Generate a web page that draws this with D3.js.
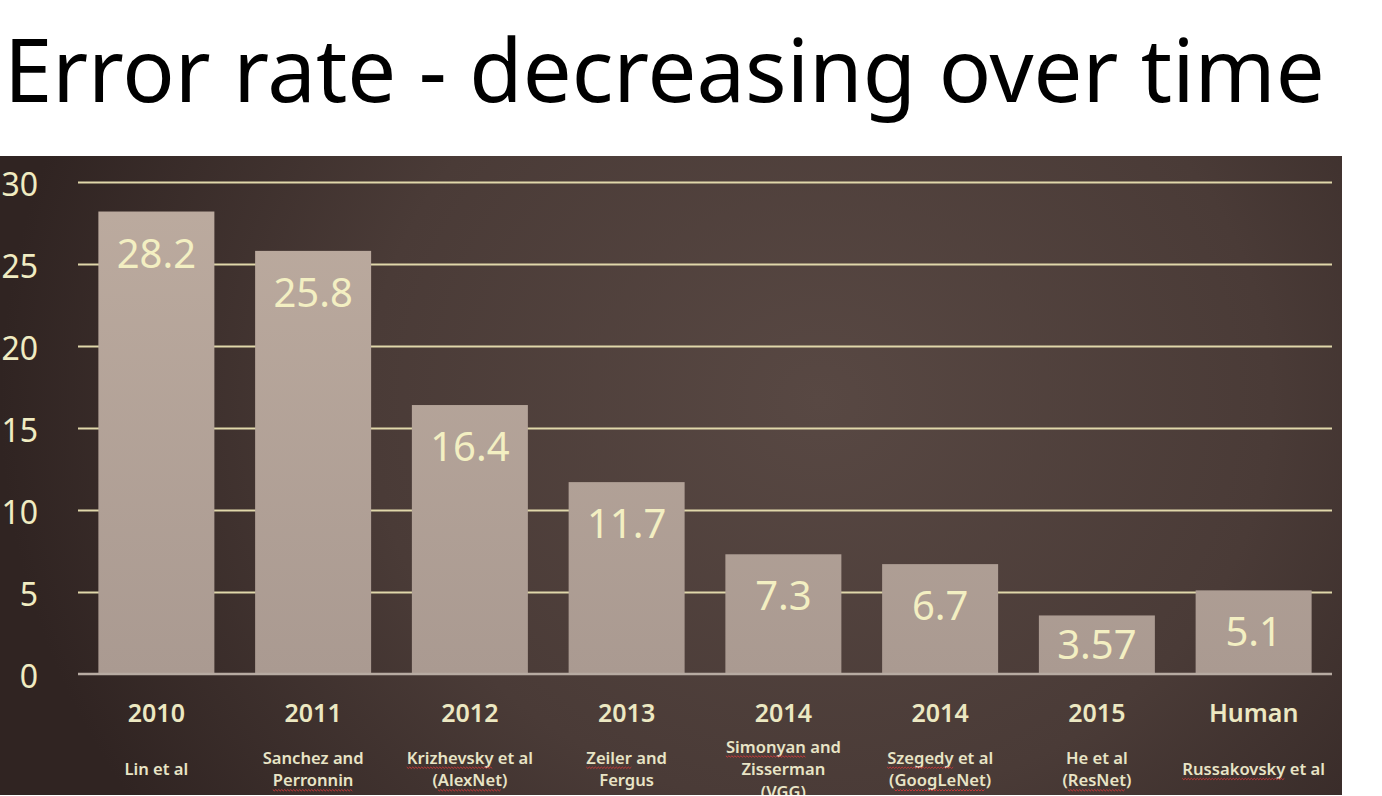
<!DOCTYPE html>
<html>
<head>
<meta charset="utf-8">
<script src="https://cdn.jsdelivr.net/npm/d3@7"></script>
<style>
  html, body { margin: 0; padding: 0; background: #ffffff; overflow: hidden; }
  svg { display: block; }
</style>
</head>
<body>
<svg id="chart" width="1382" height="796"></svg>
<script>
// ---------- data ----------
const titleText = "Error rate - decreasing over time";
const categories = ["2010", "2011", "2012", "2013", "2014", "2014", "2015", "Human"];
const errorRates = [28.2, 25.8, 16.4, 11.7, 7.3, 6.7, 3.57, 5.1];
const valueLabels = ["28.2", "25.8", "16.4", "11.7", "7.3", "6.7", "3.57", "5.1"];
const authors = [
  ["Lin et al"],
  ["Sanchez and", "Perronnin"],
  ["Krizhevsky et al", "(AlexNet)"],
  ["Zeiler and", "Fergus"],
  ["Simonyan and", "Zisserman", "(VGG)"],
  ["Szegedy et al", "(GoogLeNet)"],
  ["He et al", "(ResNet)"],
  ["Russakovsky et al"]
];
const yTicks = [0, 5, 10, 15, 20, 25, 30];
const spellFlagged = ["Perronnin", "Krizhevsky", "AlexNet", "Zeiler", "Simonyan", "Szegedy", "GoogLeNet", "ResNet", "Russakovsky"];

// ---------- layout ----------
const svg = d3.select("#chart");
const panel = { x0: 0, y0: 156, x1: 1342, y1: 795 };
const plot = { left: 78, right: 1332, top: 182, bottom: 674 };
const FONT = "'Noto Sans', 'Open Sans', sans-serif";

const defs = svg.append("defs");
const bg = defs.append("radialGradient").attr("id", "bgGrad")
  .attr("gradientUnits", "userSpaceOnUse")
  .attr("cx", 820).attr("cy", 400).attr("r", 820)
  .attr("gradientTransform", "translate(820,400) scale(1,0.9) translate(-820,-400)");
bg.append("stop").attr("offset", "0").attr("stop-color", "#584843");
bg.append("stop").attr("offset", "0.55").attr("stop-color", "#4a3b37");
bg.append("stop").attr("offset", "1").attr("stop-color", "#302422");

const barGrad = defs.append("linearGradient").attr("id", "barGrad")
  .attr("gradientUnits", "userSpaceOnUse")
  .attr("x1", 0).attr("y1", plot.top).attr("x2", 0).attr("y2", plot.bottom);
barGrad.append("stop").attr("offset", "0").attr("stop-color", "#bcab9f");
barGrad.append("stop").attr("offset", "1").attr("stop-color", "#aa9a91");

// title
const title = svg.append("text")
  .attr("x", 4).attr("y", 102)
  .attr("font-family", FONT)
  .attr("font-size", 90)
  .attr("fill", "#000")
  .text(titleText);
const tw = title.node().getComputedTextLength();
title.attr("font-size", 90 * 1321 / tw);

// panel
svg.append("rect")
  .attr("x", panel.x0).attr("y", panel.y0)
  .attr("width", panel.x1 - panel.x0).attr("height", panel.y1 - panel.y0)
  .attr("fill", "url(#bgGrad)");

const g = svg.append("g");
g.append("clipPath").attr("id", "panelClip").append("rect")
  .attr("x", panel.x0).attr("y", panel.y0)
  .attr("width", panel.x1 - panel.x0).attr("height", panel.y1 - panel.y0);
const inner = g.append("g").attr("clip-path", "url(#panelClip)");

// scales
const x = d3.scaleBand()
  .domain(d3.range(categories.length))
  .range([plot.left, plot.right])
  .paddingInner(0.26)
  .paddingOuter(0.13);
const y = d3.scaleLinear().domain([0, 30]).range([plot.bottom, plot.top]);

// gridlines (via axis)
const yAxis = d3.axisLeft(y).tickValues(yTicks.filter(d => d > 0))
  .tickSize(-(plot.right - plot.left)).tickFormat("");
const gridG = inner.append("g").attr("transform", `translate(${plot.left},0)`).call(yAxis);
gridG.select(".domain").remove();
gridG.selectAll(".tick line").attr("stroke", "#e0d7aa").attr("stroke-width", 2.2);

// y tick labels
inner.append("g").selectAll("text").data(yTicks).join("text")
  .attr("x", 38).attr("y", d => y(d) + 5)
  .attr("text-anchor", "end").attr("dominant-baseline", "middle")
  .attr("font-family", FONT)
  .attr("font-size", 32)
  .attr("fill", "#f0ecc2")
  .text(d => d);

// bars
inner.append("g").selectAll("rect").data(errorRates).join("rect")
  .attr("x", (d, i) => x(i))
  .attr("y", d => y(d))
  .attr("width", x.bandwidth())
  .attr("height", d => y(0) - y(d))
  .attr("fill", "url(#barGrad)");

// baseline
inner.append("line")
  .attr("x1", plot.left).attr("x2", plot.right)
  .attr("y1", y(0)).attr("y2", y(0))
  .attr("stroke", "#b7aba2").attr("stroke-width", 2.5);

// value labels
inner.append("g").selectAll("text").data(errorRates).join("text")
  .attr("x", (d, i) => x(i) + x.bandwidth() / 2)
  .attr("y", d => Math.min(y(d) + 56, y(0) - 15))
  .attr("text-anchor", "middle")
  .attr("font-family", FONT)
  .attr("font-size", 40)
  .attr("fill", "#f3efc2")
  .text((d, i) => valueLabels[i]);

// year labels
inner.append("g").selectAll("text").data(categories).join("text")
  .attr("x", (d, i) => x(i) + x.bandwidth() / 2)
  .attr("y", 722)
  .attr("text-anchor", "middle")
  .attr("font-family", FONT)
  .attr("font-weight", 600)
  .attr("font-size", 25)
  .attr("fill", "#ece8c2")
  .text(d => d);

// author labels
const lineH = 22.5;
const authG = inner.append("g");
authors.forEach((lines, i) => {
  const cx = x(i) + x.bandwidth() / 2;
  const n = lines.length;
  lines.forEach((ln, j) => {
    const by = 775 + (j - (n - 1) / 2) * lineH;
    const t = authG.append("text")
      .attr("x", cx).attr("y", by)
      .attr("text-anchor", "middle")
      .attr("font-family", FONT)
      .attr("font-weight", 600)
      .attr("font-size", 16.6)
      .attr("fill", "#e8e4c6")
      .text(ln);
    // spell-check squiggles under flagged words
    spellFlagged.forEach(w => {
      const k = ln.indexOf(w);
      if (k < 0) return;
      const node = t.node();
      const sx = node.getStartPositionOfChar(k).x;
      const ex = node.getEndPositionOfChar(k + w.length - 1).x;
      const sy = by + 3.5;
      const pts = [];
      for (let px = sx, s = 0; px <= ex; px += 1.5, s++) pts.push([px, sy + (s % 2 ? 1.2 : -0.2)]);
      authG.append("path")
        .attr("d", d3.line()(pts))
        .attr("fill", "none")
        .attr("stroke", "#d03a3a")
        .attr("stroke-width", 0.9);
    });
  });
});
</script>
</body>
</html>
